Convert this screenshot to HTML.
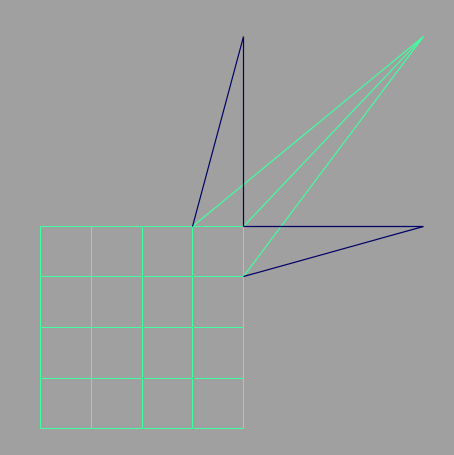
<!DOCTYPE html>
<html><head><meta charset="utf-8"><style>html,body{margin:0;padding:0;background:#a0a0a0;}svg{display:block;}</style></head>
<body>
<svg width="454" height="455" viewBox="0 0 454 455">
<rect width="454" height="455" fill="#a0a0a0"/>
<g id="grid" stroke="#40ff9f" stroke-width="1"></g>
<g id="rays" stroke-width="1.2"></g>
</svg>
<script>
const gridXs = [40, 91, 142, 192, 243];
const gridYs = [226, 276, 327, 378, 428];
const navyLines = [[192,226,243,36],[243,36,243,226],[243,226,423,226],[423,226,243,276]];
const greenLines = [[192,226,423,36],[243,226,423,36],[243,276,423,36]];
const NS='http://www.w3.org/2000/svg';
const g=document.getElementById('grid');
function ln(parent,x1,y1,x2,y2,color,name){
  const l=document.createElementNS(NS,'line');
  l.setAttribute('x1',x1+0.5);l.setAttribute('y1',y1+0.5);
  l.setAttribute('x2',x2+0.5);l.setAttribute('y2',y2+0.5);
  if(color) l.setAttribute('stroke',color);
  
  
  parent.appendChild(l);
}
gridXs.forEach(x=>ln(g,x,gridYs[0],x,gridYs[gridYs.length-1],null,'grid-vertical-line'));
gridYs.forEach(y=>ln(g,gridXs[0],y,gridXs[gridXs.length-1],y,null,'grid-horizontal-line'));
const r=document.getElementById('rays');
greenLines.forEach(a=>ln(r,a[0],a[1],a[2],a[3],'#40ff9f','green-ray'));
navyLines.forEach(a=>ln(r,a[0],a[1],a[2],a[3],'#000066','navy-edge'));
</script>
</body></html>
